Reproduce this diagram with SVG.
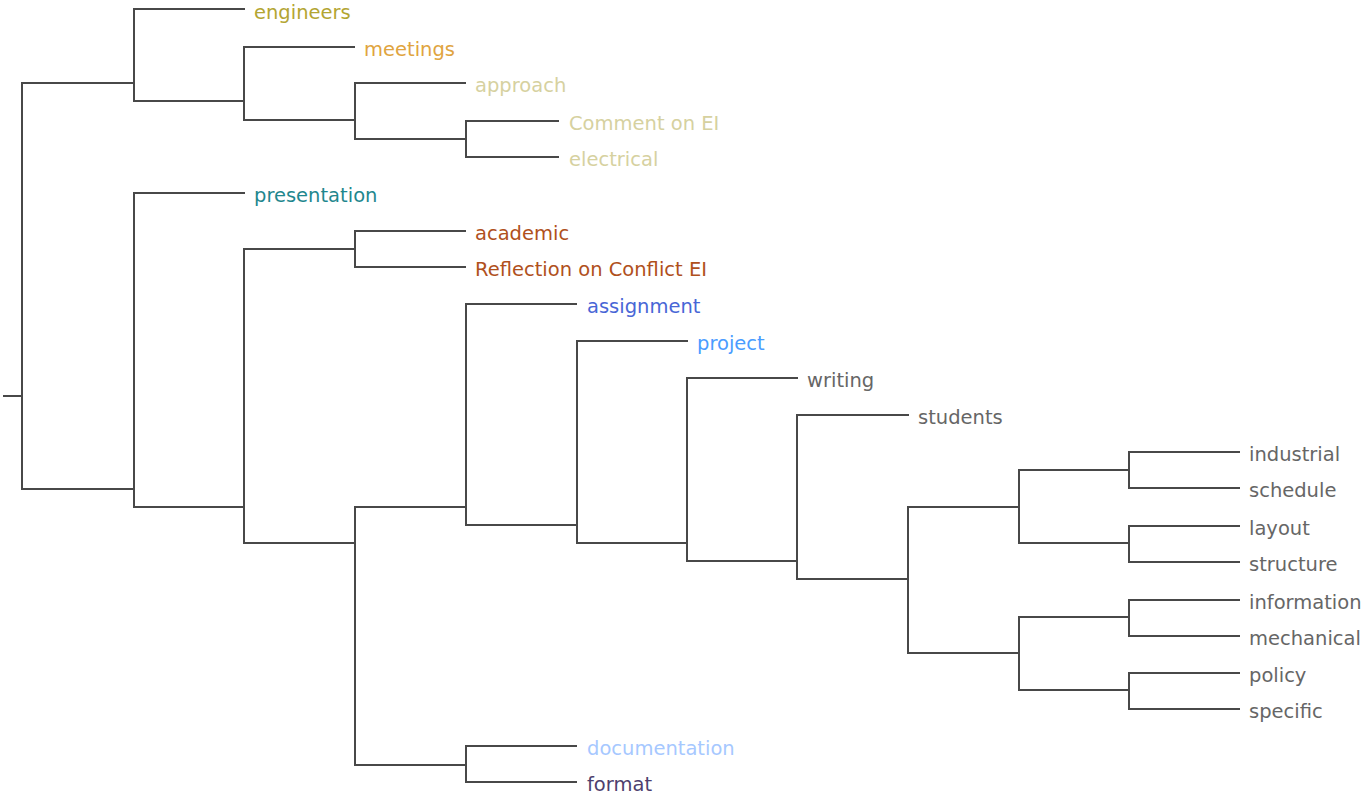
<svg xmlns="http://www.w3.org/2000/svg" width="1361" height="795" viewBox="0 0 1361 795">
  <style>
    .link { fill: none; stroke: #484848; stroke-width: 2; stroke-linecap: square; }
    .node text { font-family: "DejaVu Sans", "Liberation Sans", sans-serif; font-size: 19.5px; fill: #666; }
  </style>
  <rect width="1361" height="795" fill="#fff"/>

  <!-- elbow connectors of the dendrogram -->
  <g id="connectors" class="link">
    <!-- root -->
    <path d="M4,396 H22 M22,83 V489 M22,83 H134 M22,489 H134"/>
    <!-- upper cluster -->
    <path d="M134,9 V101 M134,9 H244 M134,101 H244"/>
    <path d="M244,47 V120 M244,47 H354 M244,120 H355"/>
    <path d="M355,83 V139 M355,83 H465 M355,139 H466"/>
    <path d="M466,121 V157 M466,121 H558 M466,157 H558"/>
    <!-- lower cluster -->
    <path d="M134,193 V507 M134,193 H244 M134,507 H244"/>
    <path d="M244,249 V543 M244,249 H355 M244,543 H355"/>
    <path d="M355,231 V267 M355,231 H465 M355,267 H465"/>
    <path d="M355,507 V765 M355,507 H466 M355,765 H466"/>
    <path d="M466,746 V782 M466,746 H576 M466,782 H576"/>
    <path d="M466,304 V525 M466,304 H576 M466,525 H577"/>
    <path d="M577,341 V543 M577,341 H687 M577,543 H687"/>
    <path d="M687,378 V561 M687,378 H797 M687,561 H797"/>
    <path d="M797,415 V579 M797,415 H908 M797,579 H908"/>
    <path d="M908,507 V653 M908,507 H1019 M908,653 H1019"/>
    <path d="M1019,470 V543 M1019,470 H1129 M1019,543 H1129"/>
    <path d="M1019,617 V690 M1019,617 H1129 M1019,690 H1129"/>
    <path d="M1129,452 V488 M1129,452 H1239 M1129,488 H1239"/>
    <path d="M1129,526 V562 M1129,526 H1239 M1129,562 H1239"/>
    <path d="M1129,600 V636 M1129,600 H1239 M1129,636 H1239"/>
    <path d="M1129,673 V709 M1129,673 H1239 M1129,709 H1239"/>
  </g>

  <!-- leaf labels -->
  <g id="n-engineers" class="node"><text x="254" y="19" style="fill:#b3a532">engineers</text></g>
  <g id="n-meetings" class="node"><text x="364" y="56" style="fill:#e0a440">meetings</text></g>
  <g id="n-approach" class="node"><text x="475" y="92" style="fill:#d6d1a0">approach</text></g>
  <g id="n-comment" class="node"><text x="569" y="130" style="fill:#d6d1a0">Comment on EI</text></g>
  <g id="n-electrical" class="node"><text x="569" y="166" style="fill:#d6d1a0">electrical</text></g>
  <g id="n-presentation" class="node"><text x="254" y="202" style="fill:#1f878e">presentation</text></g>
  <g id="n-academic" class="node"><text x="475" y="240" style="fill:#b0501c">academic</text></g>
  <g id="n-reflection" class="node"><text x="475" y="276" style="fill:#b0501c">Reflection on Conflict EI</text></g>
  <g id="n-assignment" class="node"><text x="587" y="313" style="fill:#4866d6">assignment</text></g>
  <g id="n-project" class="node"><text x="697" y="350" style="fill:#4a9cff">project</text></g>
  <g id="n-writing" class="node"><text x="807" y="387">writing</text></g>
  <g id="n-students" class="node"><text x="918" y="424">students</text></g>
  <g id="n-industrial" class="node"><text x="1249" y="461">industrial</text></g>
  <g id="n-schedule" class="node"><text x="1249" y="497">schedule</text></g>
  <g id="n-layout" class="node"><text x="1249" y="535">layout</text></g>
  <g id="n-structure" class="node"><text x="1249" y="571">structure</text></g>
  <g id="n-information" class="node"><text x="1249" y="609">information</text></g>
  <g id="n-mechanical" class="node"><text x="1249" y="645">mechanical</text></g>
  <g id="n-policy" class="node"><text x="1249" y="682">policy</text></g>
  <g id="n-specific" class="node"><text x="1249" y="718">specific</text></g>
  <g id="n-documentation" class="node"><text x="587" y="755" style="fill:#a6c8ff">documentation</text></g>
  <g id="n-format" class="node"><text x="587" y="791" style="fill:#4e3f6e">format</text></g>
</svg>
